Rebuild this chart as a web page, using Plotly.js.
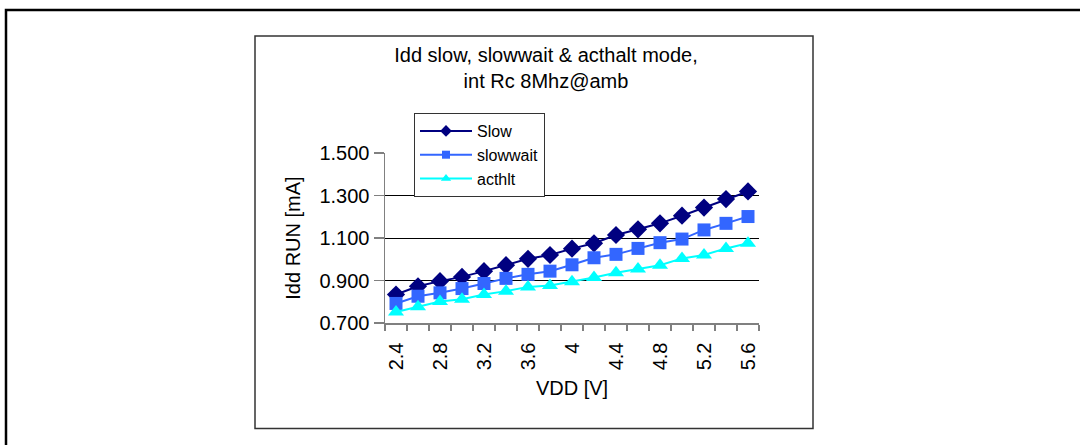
<!DOCTYPE html>
<html>
<head>
<meta charset="utf-8">
<script src="https://cdn.plot.ly/plotly-3.0.1.min.js"></script>
<style>html,body{margin:0;padding:0;background:#fff;}#chart{width:1080px;height:445px;}</style>
</head>
<body>
<div id="chart"></div>
<script>
// ---- data ----
const vdd = [2.4, 2.6, 2.8, 3.0, 3.2, 3.4, 3.6, 3.8, 4.0, 4.2, 4.4, 4.6, 4.8, 5.0, 5.2, 5.4, 5.6];
const slow = [0.834, 0.873, 0.897, 0.917, 0.944, 0.972, 1.002, 1.020, 1.050, 1.075, 1.114, 1.141, 1.169, 1.205, 1.243, 1.283, 1.319];
const slowwait = [0.792, 0.826, 0.842, 0.862, 0.886, 0.910, 0.929, 0.944, 0.974, 1.007, 1.023, 1.051, 1.078, 1.095, 1.138, 1.169, 1.201];
const acthlt = [0.752, 0.776, 0.801, 0.812, 0.834, 0.850, 0.870, 0.877, 0.894, 0.914, 0.936, 0.954, 0.972, 1.004, 1.020, 1.051, 1.075];
const seriesNames = ['Slow', 'slowwait', 'acthlt'];
const xTickLabels = ['2.4', '2.8', '3.2', '3.6', '4', '4.4', '4.8', '5.2', '5.6'];
const yTickLabels = ['0.700', '0.900', '1.100', '1.300', '1.500'];
const titleText = 'Idd slow, slowwait & acthalt mode,<br>int Rc 8Mhz@amb';
const xTitle = 'VDD [V]';
const yTitle = 'Idd RUN [mA]';

// ---- layout geometry (pixels) ----
const W = 1080, H = 445;
const M = {l: 385, r: 321, t: 153, b: 122};
const pw = W - M.l - M.r, ph = H - M.t - M.b;
const px = x => (x - M.l) / pw;
const py = y => (H - M.b - y) / ph;

const font = 'Liberation Sans, Arial, sans-serif';

const styles = [
  {color: '#000080', symbol: 'diamond', size: 14, lsize: 9},
  {color: '#3366FF', symbol: 'square', size: 13, lsize: 8},
  {color: '#00FFFF', symbol: 'triangle-up', size: 14, lsize: 9}
];
const seriesY = [slow, slowwait, acthlt];

const traces = [];
seriesY.forEach((ys, i) => {
  const s = styles[i];
  traces.push({x: vdd, y: ys, name: seriesNames[i], mode: 'lines+markers', showlegend: false,
    line: {color: s.color, width: 2}, marker: {symbol: s.symbol, size: s.size, color: s.color}});
});
// legend entries (smaller legend symbols, as in the reference)
seriesY.forEach((ys, i) => {
  const s = styles[i];
  traces.push({x: [null], y: [null], name: seriesNames[i], mode: 'lines+markers', showlegend: true,
    line: {color: s.color, width: 2}, marker: {symbol: s.symbol, size: s.lsize, color: s.color}});
});

const layout = {
  width: W, height: H,
  margin: M,
  paper_bgcolor: '#fff', plot_bgcolor: '#fff',
  font: {family: font, color: '#000', size: 20},
  title: {text: titleText, font: {family: font, size: 20, color: '#000'},
          x: px(546), xref: 'paper', xanchor: 'center', y: 1 - 62 / H, yref: 'container', yanchor: 'top'},
  showlegend: true,
  legend: {x: px(414), y: py(113), xanchor: 'left', yanchor: 'top',
           bgcolor: '#fff', bordercolor: '#333', borderwidth: 1, itemwidth: 52,
           font: {family: font, size: 16, color: '#000'}, tracegroupgap: 0},
  xaxis: {
    range: [2.3, 5.7], showgrid: false, zeroline: false,
    tickmode: 'array', tickvals: xTickLabels.map(parseFloat), ticktext: xTickLabels,
    tickangle: -90, ticks: 'outside', ticklen: 10, tickcolor: 'rgba(0,0,0,0)',
    tickfont: {family: font, size: 20, color: '#000'},
    minor: {tickmode: 'linear', tick0: 2.3, dtick: 0.2, ticks: 'outside', ticklen: 6, tickcolor: '#808080', tickwidth: 1.5, showgrid: false},
    showline: true, linecolor: '#808080', linewidth: 1.5,
    title: {text: xTitle, font: {family: font, size: 20, color: '#000'}, standoff: 11},
    fixedrange: true
  },
  yaxis: {
    range: [0.7, 1.5], tickmode: 'array', tickvals: yTickLabels.map(parseFloat), ticktext: yTickLabels,
    ticks: 'outside', ticklen: 10, tickcolor: '#808080', tickwidth: 1.5,
    showgrid: true, gridcolor: '#000', gridwidth: 1, zeroline: false,
    showline: true, linecolor: '#808080', linewidth: 1.5,
    tickfont: {family: font, size: 20, color: '#000'},
    title: {text: yTitle, font: {family: font, size: 20, color: '#000'}, standoff: 13},
    fixedrange: true
  },
  shapes: [
    {type: 'rect', xref: 'paper', yref: 'paper', x0: px(6), x1: px(1095), y0: py(10), y1: py(460),
     line: {color: '#000', width: 2.5}, fillcolor: 'rgba(0,0,0,0)', layer: 'below'},
    {type: 'rect', xref: 'paper', yref: 'paper', x0: px(255), x1: px(813), y0: py(36), y1: py(428.5),
     line: {color: '#333', width: 1.5}, fillcolor: 'rgba(0,0,0,0)', layer: 'below'}
  ]
};

Plotly.newPlot('chart', traces, layout, {displayModeBar: false, staticPlot: true});
</script>
</body>
</html>
